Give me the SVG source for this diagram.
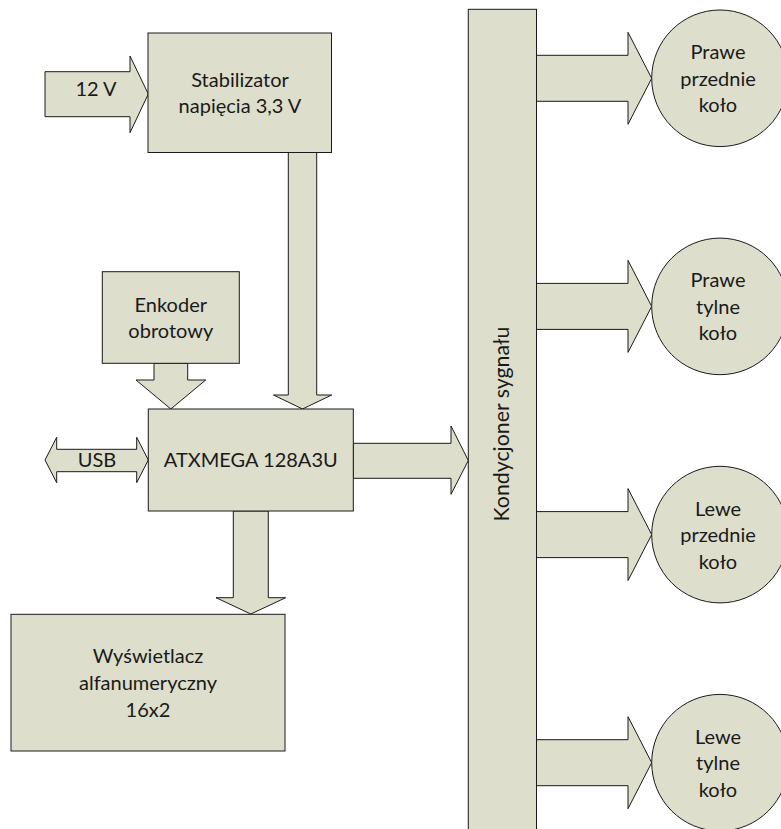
<svg xmlns="http://www.w3.org/2000/svg" width="781" height="829" viewBox="0 0 781 829">
<style>
.s{fill:#DDDECB;stroke:#1a1a1a;stroke-width:1}
.t{font-family:Lato,"Liberation Sans",sans-serif;font-size:20px;fill:#1a1a1a;text-anchor:middle}
</style>
<rect width="781" height="829" fill="#fff"/>
<g id="connectors">
<polygon class="s" points="45,71.7 130,71.7 130,56 148.3,94 130,132.7 130,116.7 45,116.7"/>
<polygon class="s" points="288.3,152.5 316.7,152.5 316.7,395 331.7,395 302.5,409 273.5,395 288.3,395"/>
<polygon class="s" points="154,363.3 187.7,363.3 187.7,380 205.7,380 170.8,409 136,380 154,380"/>
<polygon class="s" points="45,460 56.7,437.3 56.7,449.3 136.7,449.3 136.7,437.3 148.3,460 136.7,482.7 136.7,471.7 56.7,471.7 56.7,482.7"/>
<polygon class="s" points="353.3,443.3 451,443.3 451,426 468.3,460.5 451,494.3 451,478.3 353.3,478.3"/>
<polygon class="s" points="233.3,511 268.3,511 268.3,597.7 285.7,597.7 250.8,614 216,597.7 233.3,597.7"/>
<polygon class="s" points="536.5,55.3 628,55.3 628,32.3 651.7,78.3 628,124.3 628,101.3 536.5,101.3"/>
<polygon class="s" points="536.5,283.4 628,283.4 628,260.4 651.7,306.4 628,352.4 628,329.4 536.5,329.4"/>
<polygon class="s" points="536.5,511.6 628,511.6 628,488.6 651.7,534.6 628,580.6 628,557.6 536.5,557.6"/>
<polygon class="s" points="536.5,739.7 628,739.7 628,716.7 651.7,762.7 628,808.7 628,785.7 536.5,785.7"/>
<text class="t" x="96" y="96">12 V</text>
<text class="t" x="97" y="466.7">USB</text>
</g>
<g id="stabilizator">
<rect class="s" x="148" y="33" width="183.5" height="119.5"/>
<text class="t" x="240" y="87">Stabilizator</text>
<text class="t" x="240" y="113">napięcia 3,3 V</text>
</g>
<g id="enkoder">
<rect class="s" x="102.3" y="271.7" width="137" height="91.6"/>
<text class="t" x="170.8" y="311.7">Enkoder</text>
<text class="t" x="170.8" y="337.5">obrotowy</text>
</g>
<g id="atxmega">
<rect class="s" x="148.3" y="409" width="205" height="102"/>
<text class="t" x="250.8" y="466.7">ATXMEGA 128A3U</text>
</g>
<g id="wyswietlacz">
<rect class="s" x="11" y="614.3" width="274" height="136.7"/>
<text class="t" x="148" y="663">Wyświetlacz</text>
<text class="t" x="148" y="690">alfanumeryczny</text>
<text class="t" x="148" y="717">16x2</text>
</g>
<g id="kondycjoner">
<rect class="s" x="468.3" y="9.3" width="68.2" height="840"/>
<text class="t" style="font-size:21.3px" transform="translate(509,424) rotate(-90)">Kondycjoner sygnału</text>
</g>
<g id="kolo1">
<circle class="s" cx="720" cy="78.3" r="68.3"/>
<text class="t" x="718" y="59.3">Prawe</text>
<text class="t" x="718" y="85.8">przednie</text>
<text class="t" x="718" y="112.3">koło</text>
</g>
<g id="kolo2">
<circle class="s" cx="720" cy="306.4" r="68.3"/>
<text class="t" x="718" y="287.4">Prawe</text>
<text class="t" x="718" y="313.9">tylne</text>
<text class="t" x="718" y="340.4">koło</text>
</g>
<g id="kolo3">
<circle class="s" cx="720" cy="534.6" r="68.3"/>
<text class="t" x="718" y="515.6">Lewe</text>
<text class="t" x="718" y="542.1">przednie</text>
<text class="t" x="718" y="568.6">koło</text>
</g>
<g id="kolo4">
<circle class="s" cx="720" cy="762.7" r="68.3"/>
<text class="t" x="718" y="743.7">Lewe</text>
<text class="t" x="718" y="770.2">tylne</text>
<text class="t" x="718" y="796.7">koło</text>
</g>
</svg>
